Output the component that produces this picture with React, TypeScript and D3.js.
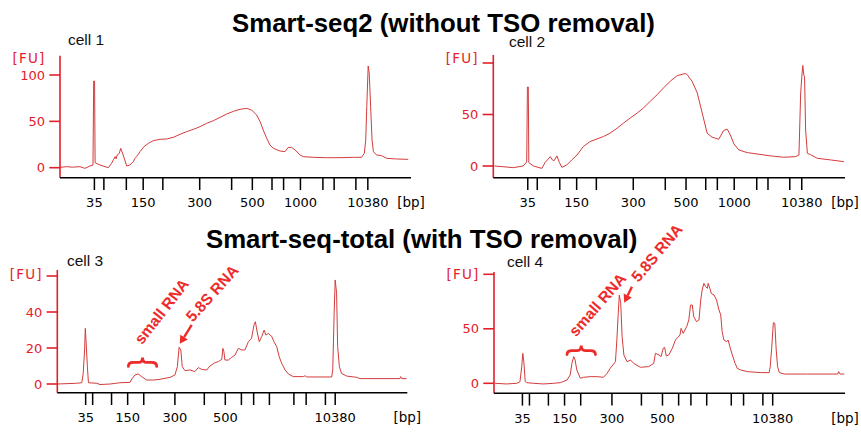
import React from 'react';
import * as d3 from 'd3';

// Ladder fragment sizes (bp) and their migration times (s) in each chip run
const ladderBp = [35, 50, 100, 150, 200, 300, 400, 500, 600, 700, 1000, 2000, 3000, 7000, 10380];
const topLadderTimes = [24.8, 27.5, 33.9, 38.7, 44.3, 54.8, 63.9, 69.8, 75.4, 78.7, 83.5, 89.9, 93.1, 99.3, 102.7];
const bottomLadderTimes = [23.1, 25.1, 30.5, 35.1, 39.7, 48.6, 57.0, 63.0, 67.6, 71.1, 75.6, 82.6, 86.1, 91.6, 94.4];
const topLabeledBp = [35, 150, 300, 500, 1000, 10380];
const bottomLabeledBp = [35, 150, 300, 500, 10380];

const titles = ['Smart-seq2 (without TSO removal)', 'Smart-seq-total (with TSO removal)'];
const cellNames = ['cell 1', 'cell 2', 'cell 3', 'cell 4'];

// [time (s), fluorescence (FU)]
const cell1: [number, number][] = [
  [15, 0.4], [16.9, 1.1], [18.5, 0.6], [20.7, 1.1], [22.1, -0.7], [23.5, 1.8], [24.4, 2.9], [24.6, 93.5], [24.85, 93.5], [25, 5.4],
  [26.4, 2.9], [27.5, 1.5], [28.8, 0], [29.7, 4.7], [30.2, 8.5], [30.7, 11.9], [31, 9.5], [31.3, 13.7], [31.9, 15.5], [32.3, 20.9], [33, 13.7], [34, 1.8],
  [34.9, 2.9], [35.9, 6.5], [36.3, 9.8], [36.8, 11.9], [37.8, 17.3], [38.9, 22.7], [40.2, 26.3], [41.6, 29.2], [43.5, 30.6], [45.4, 31], [47.3, 32.8],
  [49.2, 36], [51.1, 38.9], [53, 41.4], [54.9, 44.3], [56.8, 47.9], [58.7, 50.7], [60.6, 54.3], [62.5, 57.9], [64.4, 60.8], [66.3, 63],
  [68.2, 64], [69.6, 62.2], [71, 56.9], [72, 49.7], [72.9, 40.7], [73.9, 31.7], [74.8, 24.5], [75.8, 20.9], [77.7, 18], [79.1, 17.3],
  [80, 21.9], [81, 21.9], [82, 19.1], [83.4, 13.7], [84.3, 11.9], [87.2, 11.2], [91, 10.8], [94.8, 10.8], [98.6, 11.2], [100.9, 11.2],
  [101.7, 15.5], [102.1, 29.9], [102.4, 65.8], [102.8, 109.7], [103.1, 102], [103.5, 65.8], [103.9, 29.9], [104.3, 17.3], [105.2, 13.7],
  [106.6, 13], [108.1, 10.1], [110.9, 9.4], [114.2, 9],
];

const cell2: [number, number][] = [
  [15.3, 0], [17.8, -0.7], [20.7, -1.6], [23.5, 0], [24.5, 3.9], [24.7, 76.7], [24.95, 76.7], [25.1, 3.3], [26.4, 0], [28.8, -2.3],
  [29.7, 3.3], [31.2, 9.1], [31.8, 5.9], [32.3, 5.2], [33.1, 9.8], [33.8, 3.3], [34.5, -1.3], [35.9, 1], [37.3, 5.9], [38.8, 10.7],
  [40.6, 18.9], [42.5, 23.7], [44.5, 26.3], [46.3, 28.6], [48.2, 31.9], [50.2, 36.7], [52, 41.6], [53.9, 46.5], [55.9, 51.4], [57.7, 56.3],
  [59.6, 62.8], [61.6, 69.3], [63.4, 75.8], [65.3, 82.3], [67.3, 87.8], [69.6, 89.8], [70.1, 88.8], [71.5, 82.3], [73, 70.9], [74.4, 51.4],
  [75.8, 31.9], [77.2, 28], [79.1, 26], [80.5, 34.5], [81.5, 35.8], [82.4, 30.2], [83.4, 21.5], [84.8, 15.6], [87.2, 13], [90, 11.7],
  [93.8, 9.8], [97.6, 8.5], [101, 9.1], [101.9, 10.7], [102.4, 70.9], [102.8, 90], [103, 97.6], [103.3, 88], [103.5, 87.2], [103.8, 35.1],
  [104.3, 12.4], [105.2, 11], [107.1, 7.5], [110.9, 5.9], [114.7, 4.2],
];

const cell3: [number, number][] = [
  [15, 0], [20.5, 0.4], [22, 0.7], [22.4, 5.9], [22.8, 18.9], [23, 30.9], [23.2, 24.4], [23.6, 9.6], [23.9, 0.7], [26.3, 0.4],
  [27.2, -0.3], [30.1, 0], [32.9, 0.7], [35.8, 0.9], [36.3, 2.8], [37.2, 5], [38.1, 5.6], [39.1, 4.1], [40.5, 2.2], [42.4, 2.2],
  [44.3, 2.6], [47.2, 3.7], [48.6, 5], [49.3, 9.6], [49.8, 20.4], [50.3, 18.9], [50.7, 9.6], [51.5, 7.4], [52.9, 7.8], [54.3, 6.9],
  [55.3, 9.1], [56.3, 8.1], [57.7, 7.8], [58.6, 10], [60.1, 11.9], [61, 12.4], [62, 13.7], [62.3, 19.8], [62.6, 18], [62.9, 13.3],
  [63.9, 13.3], [64.8, 14.8], [65.8, 16.1], [66.7, 19.8], [67.7, 18.9], [68.6, 18.9], [69.6, 23.5], [70.5, 25.4], [71.2, 32.8], [71.6, 34.6],
  [72, 30], [72.7, 23.5], [73.4, 26.3], [74.1, 30], [74.6, 27.2], [75.3, 28.1], [76.3, 26.3], [76.9, 23.5], [77.7, 20.7], [78.4, 15.2],
  [79.1, 11.5], [80.1, 7.8], [81, 5.6], [82.4, 4.1], [85.3, 4.1], [85.8, 4.6], [86.3, 3.9], [93.4, 3.9], [93.7, 7.8], [94.1, 39.3],
  [94.4, 57.8], [94.8, 50.4], [95.1, 20.7], [95.6, 9.6], [96.2, 5.9], [97.7, 4.4], [100.5, 3.7], [101.5, 3], [112.9, 3], [113.1, 4.1],
  [113.4, 3], [114.8, 3],
];

const cell4: [number, number][] = [
  [15.3, 0], [18.6, -0.6], [21.5, 0], [22.4, 1.5], [22.9, 15.3], [23.2, 27.5], [23.5, 19.8], [23.9, 1.5], [24.3, 0.6], [26.2, 0],
  [29.1, -0.6], [32, 0], [33.9, 0.6], [35.8, 3], [36.7, 7.6], [37.2, 18.3], [37.7, 24.5], [38.1, 21.4], [38.6, 12.2], [39.6, 4.6],
  [40.5, 5.5], [42.4, 6.1], [44.3, 6.1], [46.2, 5.5], [47.2, 9.1], [48.1, 13.7], [49.6, 19.8], [50, 39.7], [50.4, 64.2], [50.7, 81],
  [51.1, 73.4], [51.5, 42.8], [52, 26], [52.9, 19.8], [53.9, 21.4], [54.8, 18.3], [56.7, 14.7], [59.1, 15.3], [60.5, 18.3], [61, 27.5],
  [62, 26], [62.6, 24.5], [63.2, 32.1], [63.6, 33], [64.1, 25], [64.8, 26], [65.8, 32.1], [66.7, 39.7], [68, 44.3], [68.3, 50.4],
  [68.9, 45.8], [69.9, 52], [70.5, 58.1], [71, 71.8], [71.5, 71.8], [71.9, 61.1], [72.7, 56.5], [73.4, 58.1], [73.9, 76.4], [74.3, 85.6],
  [74.8, 91.7], [75.3, 88.7], [75.8, 87.1], [76, 91.7], [76.5, 87.1], [76.9, 82.5], [77.7, 81], [78.4, 76.4], [79.1, 67.2], [79.6, 62.7],
  [80, 47.4], [80.5, 39.7], [81.3, 38.2], [81.7, 39.7], [82.2, 33.6], [82.9, 26], [83.7, 18.3], [84.3, 13.7], [85.3, 12.2], [87.2, 10.7],
  [91, 9.8], [93.4, 9.8], [93.7, 15.3], [94.1, 32.1], [94.6, 55.7], [95, 55], [95.4, 30.6], [95.8, 15.3], [96.3, 9.8], [97.7, 8.5],
  [104.3, 8.5], [112.9, 8.5], [113.2, 10.7], [113.6, 8.5], [114.8, 8.5],
];

const RED_AXIS = '#e3202a';
const TRACE = '#d43c3c';
const ANNO = '#ee2b2b';

type Anno = {
  brace: [number, number, number];
  arrowTail: [number, number];
  arrowTip: [number, number];
  small: [number, number, number];
  s58: [number, number, number];
};

type PanelCfg = {
  data: [number, number][];
  name: string;
  x0: number; x1: number; axisY: number; topY: number; y0: number; k: number;
  ladder: number[]; labeled: number[];
  yTicks: number[]; fuTop: boolean; fuY: number;
  nameX: number; nameY: number;
  anno?: Anno;
};

const panels: PanelCfg[] = [
  { data: cell1, name: cellNames[0], x0: 60, x1: 411, axisY: 177.7, topY: 55.7, y0: 167.7, k: 0.927,
    ladder: topLadderTimes, labeled: topLabeledBp, yTicks: [0, 50, 100], fuTop: false, fuY: 62.5, nameX: 68, nameY: 45 },
  { data: cell2, name: cellNames[1], x0: 493.3, x1: 845, axisY: 177.7, topY: 55, y0: 166, k: 1.03,
    ladder: topLadderTimes, labeled: topLabeledBp, yTicks: [0, 50, 100], fuTop: true, fuY: 63, nameX: 509, nameY: 47 },
  { data: cell3, name: cellNames[2], x0: 57.3, x1: 407.3, axisY: 392.7, topY: 270, y0: 384, k: 1.8,
    ladder: bottomLadderTimes, labeled: bottomLabeledBp, yTicks: [0, 20, 40, 60], fuTop: true, fuY: 279, nameX: 67, nameY: 266,
    anno: { brace: [35.3, 43.4, 12], arrowTail: [53.4, 32.8], arrowTip: [50, 22.3], small: [39.2, 21.5, -52], s58: [53.7, 34, -48] } },
  { data: cell4, name: cellNames[3], x0: 494, x1: 845, axisY: 393.3, topY: 272, y0: 383.3, k: 1.09,
    ladder: bottomLadderTimes, labeled: bottomLabeledBp, yTicks: [0, 50, 100], fuTop: true, fuY: 279, nameX: 507, nameY: 266.5,
    anno: { brace: [35.8, 43.9, 30], arrowTail: [54.3, 88.6], arrowTip: [52.1, 73.9], small: [38.4, 42, -49], s58: [56.2, 92, -50] } },
];

const tickFont = '"DejaVu Sans", Verdana, sans-serif';
const sansFont = '"Liberation Sans", Arial, Helvetica, sans-serif';

function Panel({ cfg }: { cfg: PanelCfg }) {
  const x = d3.scaleLinear().domain([15, 115]).range([cfg.x0, cfg.x1]);
  const y = d3.scaleLinear().domain([0, 100]).range([cfg.y0, cfg.y0 - 100 * cfg.k]);
  const line = d3.line<[number, number]>().x((d) => x(d[0])).y((d) => y(d[1]));
  const topTick = cfg.yTicks[cfg.yTicks.length - 1];

  let annoEls: React.ReactNode = null;
  if (cfg.anno) {
    const a = cfg.anno;
    const bx0 = x(a.brace[0]);
    const bx1 = x(a.brace[1]);
    const by = y(a.brace[2]);
    const bm = (bx0 + bx1) / 2;
    const bracePath = `M${bx0},${by + 4} Q${bx0},${by} ${bx0 + 5},${by} L${bm - 4},${by} Q${bm},${by} ${bm},${by - 5} Q${bm},${by} ${bm + 4},${by} L${bx1 - 5},${by} Q${bx1},${by} ${bx1},${by + 4}`;
    const tx = x(a.arrowTail[0]), ty = y(a.arrowTail[1]);
    const hx = x(a.arrowTip[0]), hy = y(a.arrowTip[1]);
    const ang = Math.atan2(hy - ty, hx - tx);
    const hl = 8, hw = 4.5;
    const bxh = hx - hl * Math.cos(ang), byh = hy - hl * Math.sin(ang);
    const head = `M${hx},${hy} L${bxh + hw * Math.sin(ang)},${byh - hw * Math.cos(ang)} L${bxh - hw * Math.sin(ang)},${byh + hw * Math.cos(ang)} Z`;
    const sx = x(a.small[0]), sy = y(a.small[1]);
    const fx = x(a.s58[0]), fy = y(a.s58[1]);
    annoEls = (
      <g>
        <path d={bracePath} fill="none" stroke={ANNO} strokeWidth={2.8} strokeLinecap="round" />
        <line x1={tx} y1={ty} x2={bxh} y2={byh} stroke={ANNO} strokeWidth={2.4} />
        <path d={head} fill={ANNO} />
        <text x={sx} y={sy} transform={`rotate(${a.small[2]},${sx},${sy})`} fill={ANNO} fontFamily={sansFont}
          fontWeight="bold" fontSize={15.5}>small RNA</text>
        <text x={fx} y={fy} transform={`rotate(${a.s58[2]},${fx},${fy})`} fill={ANNO} fontFamily={sansFont}
          fontWeight="bold" fontSize={15.5}>5.8S RNA</text>
      </g>
    );
  }

  return (
    <g>
      <text x={cfg.nameX} y={cfg.nameY} fontFamily={sansFont} fontSize={15.5} fill="#111">{cfg.name}</text>
      <path d={line(cfg.data) || ''} fill="none" stroke={TRACE} strokeWidth={1} strokeLinejoin="round" />
      <line x1={cfg.x0} x2={cfg.x0} y1={cfg.topY} y2={cfg.axisY} stroke={RED_AXIS} strokeWidth={1.6} />
      {cfg.yTicks.map((v) => (
        <g key={v}>
          <line x1={cfg.x0 - 10.7} x2={cfg.x0} y1={y(v)} y2={y(v)} stroke={RED_AXIS} strokeWidth={1.6} />
          {!(cfg.fuTop && v === topTick) && (
            <text x={cfg.x0 - 15} y={y(v)} dy="0.36em" textAnchor="end" fill={RED_AXIS}
              fontFamily={tickFont} fontSize={13}>{v}</text>
          )}
        </g>
      ))}
      <text x={cfg.x0 - 14.5} y={cfg.fuY} textAnchor="end" fill={RED_AXIS} fontFamily={tickFont}
        fontSize={13.5} letterSpacing={1.2}>[FU]</text>
      <line x1={cfg.x0} x2={cfg.x1} y1={cfg.axisY} y2={cfg.axisY} stroke="#000" strokeWidth={1.5} />
      {cfg.ladder.map((t, i) => (
        <line key={i} x1={x(t)} x2={x(t)} y1={cfg.axisY} y2={cfg.axisY + 12.3} stroke="#000" strokeWidth={1.5} />
      ))}
      {cfg.labeled.map((bp) => (
        <text key={bp} x={x(cfg.ladder[ladderBp.indexOf(bp)])} y={cfg.axisY + 29.5} textAnchor="middle"
          fontFamily={tickFont} fontSize={13} fill="#000">{bp}</text>
      ))}
      <text x={cfg.x1} y={cfg.axisY + 29.5} textAnchor="middle" fontFamily={tickFont} fontSize={13.5} fill="#000">[bp]</text>
      {annoEls}
    </g>
  );
}

export default function App() {
  return (
    <svg width={861} height={432} style={{ position: 'absolute', left: 0, top: 0, background: '#fff' }}>
      <text x={443.5} y={31.5} textAnchor="middle" fontFamily={sansFont} fontWeight="bold" fontSize={25.8} fill="#000">{titles[0]}</text>
      <text x={421.7} y={248} textAnchor="middle" fontFamily={sansFont} fontWeight="bold" fontSize={25.8} fill="#000">{titles[1]}</text>
      {panels.map((p, i) => <Panel key={i} cfg={p} />)}
    </svg>
  );
}
